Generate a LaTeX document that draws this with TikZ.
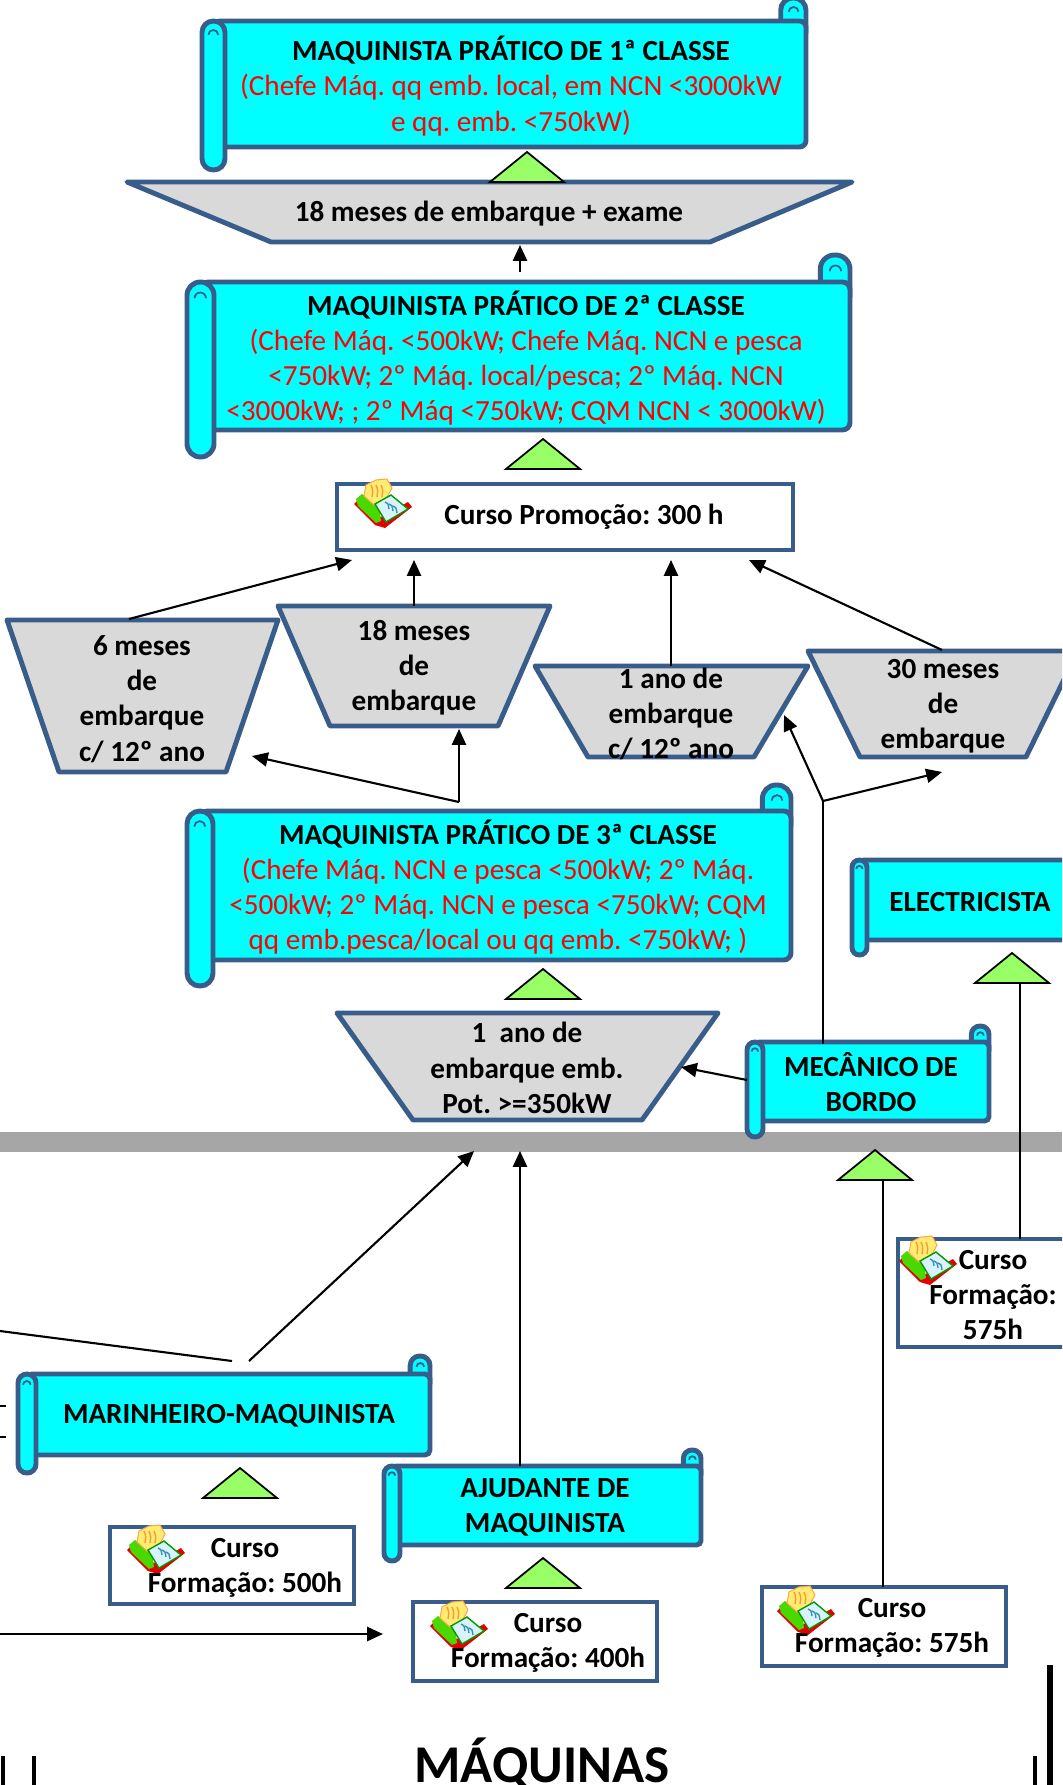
\documentclass[tikz,border=0pt]{standalone}
\usepackage{fontspec}
\setmainfont{Carlito}
\frenchspacing
\usetikzlibrary{arrows.meta}
\definecolor{azul}{RGB}{56,93,138}
\definecolor{ciano}{RGB}{0,255,255}
\definecolor{cinza}{RGB}{217,217,217}
\definecolor{verde}{RGB}{153,255,102}
\definecolor{faixa}{RGB}{166,166,166}
\definecolor{vermelho}{RGB}{255,0,0}

\newcommand{\vm}[1]{{\color{vermelho}\mdseries #1}}
% scroll: left x, top y, right x, bottom y, roll width (px)
\newcommand{\rolo}[5]{%
  \draw[scr, rounded corners=#5*0.15pt] (#3-1.1*#5,#2-#5) rectangle (#3,#2+#5);
  \draw[azul, line width=0.5pt] (#3-0.75*#5,#2-0.4*#5) arc[start angle=180,end angle=0,radius=#5*0.06pt];
  \draw[scr, rounded corners=#5*0.08pt] (#1+0.5*#5,#2) rectangle (#3,#4);
  \draw[scr, rounded corners=#5*0.14pt] (#1,#2) rectangle (#1+#5,#4+#5);
  \draw[azul, line width=0.5pt] (#1+0.28*#5,#2+0.6*#5) arc[start angle=180,end angle=0,radius=#5*0.06pt];
}
% book icon
\newcommand{\livro}[2]{%
  \begin{scope}[shift={(#1,#2)}]
    \fill[red!90!black] (-29,-1) -- (-25,-5) -- (-2,12) -- (25,-3) -- (29,2) -- (2,23) -- (-8,20) -- cycle;
    \fill[green!55!lime!85!black] (-27,-6) -- (-21,-11) -- (-4,1) -- (-2,16) -- (-7,18) -- (-25,1) -- cycle;
    \filldraw[fill=orange!25!yellow!55, draw=orange!70, line width=0.3pt] (-9,0) -- (-19,-9) -- (-17,-20) -- (-7,-25) -- (4,-26) -- (9,-17) -- (2,-4) -- cycle;
    \foreach \k in {0,1,2}
      \draw[orange!80, line width=0.4pt] (-12+5*\k,-20) .. controls (-10+5*\k,-15) .. (-11+5*\k,-8);
    \filldraw[fill=cyan!15, draw=green!60!black, line width=0.4pt] (-8,-1) -- (8,-10) -- (25,4) -- (3,17) -- cycle;
    \foreach \k in {0,1,2}
      \draw[cyan!70!black, line width=0.4pt] (2+4*\k,-3+2*\k) .. controls (5+4*\k,-2+2*\k) .. (6+4*\k,4+2*\k);
  \end{scope}}

\begin{document}
\begin{tikzpicture}
    [x=0.01cm,y=-0.01cm,
     every node/.style={font=\fontsize{8.3}{10}\selectfont\bfseries, align=center, inner sep=0pt},
     scr/.style={fill=ciano, draw=azul, line width=1.4pt},
     trapz/.style={fill=cinza, draw=azul, line width=1.4pt, line join=round},
     curso/.style={fill=white, draw=azul, line width=1.4pt},
     tri/.style={fill=verde, draw=black, line width=0.5pt},
     linha/.style={line width=0.6pt},
     seta/.style={linha, -{Triangle[length=4.5pt,width=4pt]}}]
  \useasboundingbox (0,0) rectangle (1062,1785);
  \clip (0,0) rectangle (1062,1785);

  \fill[faixa] (0,1132) rectangle (1062,1152);

  \rolo{202}{21}{806}{147}{23}
  \rolo{187}{282}{850}{430}{27}
  \rolo{187}{811}{791}{960}{26}
  \rolo{852}{860}{1110}{940}{15}
  \rolo{747}{1042}{989}{1121}{16}
  \rolo{18}{1374}{430}{1455}{18}
  \rolo{384}{1466}{701}{1545}{16}

  \foreach \a/\b/\c/\d/\e/\f in {127/852/182/271/710/242, 7/278/620/59/226/772,
      278/550/606/330/498/726, 535/808/666/588/754/757, 808/1078/651/860/1026/757,
      337/718/1013/413/642/1120}
    \draw[trapz] (\a,\c) -- (\b,\c) -- (\e,\f) -- (\d,\f) -- cycle;

  \foreach \x/\y in {527/182, 543/469, 543/999, 1012/983, 875/1180, 240/1498, 543/1588}
    \draw[tri] (\x-37,\y) -- (\x,\y-30) -- (\x+37,\y) -- cycle;

  \foreach \a/\b/\c/\d in {337/484/793/550, 110/1527/354/1604, 413/1602/657/1681,
      762/1587/1006/1666, 898/1239/1090/1347}
    \draw[curso] (\a,\b) rectangle (\c,\d);

  \foreach \x/\y in {383/505, 156/1551, 459/1627, 806/1612, 928/1262}
    {\livro{\x}{\y}}

  \node (mp1) at (511,86) {MAQUINISTA PRÁTICO DE 1ª CLASSE\\\vm{(Chefe Máq. qq emb. local, em NCN <3000kW}\\\vm{e qq. emb. <750kW)}};
  \node (exame) at (489,214) {18 meses de embarque + exame};
  \node (mp2) at (526,358) {MAQUINISTA PRÁTICO DE 2ª CLASSE\\\vm{(Chefe Máq. <500kW; Chefe Máq. NCN e pesca}\\
    \vm{<750kW; 2º Máq. local/pesca; 2º Máq. NCN}\\\vm{<3000kW; ; 2º Máq <750kW; CQM NCN < 3000kW)}};
  \node (promo) at (584,517) {Curso Promoção: 300 h};
  \node (seis) at (142,699) {6 meses\\de\\embarque\\c/ 12º ano};
  \node (dezoito) at (414,668) {18 meses\\de\\embarque};
  \node (umano) at (671,714) {1 ano de\\embarque\\c/ 12º ano};
  \node (trinta) at (943,706) {30 meses\\de\\embarque};
  \node (mp3) at (498,887) {MAQUINISTA PRÁTICO DE 3ª CLASSE\\\vm{(Chefe Máq. NCN e pesca <500kW; 2º Máq.}\\
    \vm{<500kW; 2º Máq. NCN e pesca <750kW; CQM}\\\vm{qq emb.pesca/local ou qq emb. <750kW; )}};
  \node (elec) at (970,902) {ELECTRICISTA};
  \node (pot) at (527,1068) {1~ ano de\\embarque emb.\\Pot. >=350kW};
  \node (mec) at (871,1082) {MECÂNICO DE\\BORDO};
  \node (c575r) at (993,1295) {Curso\\Formação:\\575h};
  \node (mar) at (229,1416) {MARINHEIRO-MAQUINISTA};
  \node (ajud) at (545,1507) {AJUDANTE DE\\MAQUINISTA};
  \node (c500) at (245,1568) {Curso\\Formação: 500h};
  \node (c400) at (548,1643) {Curso\\Formação: 400h};
  \node (c575) at (892,1628) {Curso\\Formação: 575h};
  \node[font=\fontsize{15.1}{18}\selectfont\bfseries, anchor=base] (maq) at (542,1782) {MÁQUINAS};

  % ends of connectors
  \coordinate (s2top) at (520,272);  \coordinate (exbot) at (520,245);
  \coordinate (seistop) at (129,619); \coordinate (pr1) at (352,560);
  \coordinate (deztop) at (414,606); \coordinate (pr2) at (414,560);
  \coordinate (umtop) at (671,666);  \coordinate (pr3) at (671,560);
  \coordinate (trtop) at (942,650);  \coordinate (pr4) at (749,560);
  \coordinate (s3top) at (459,802);  \coordinate (seisbot) at (252,756);
  \coordinate (dezbot) at (459,729);
  \coordinate (mectop) at (823,1044); \coordinate (mecj) at (823,801);
  \coordinate (umbot) at (784,715);  \coordinate (trbot) at (942,772);
  \coordinate (mecleft) at (747,1080); \coordinate (potright) at (681,1067);
  \coordinate (elecb) at (1020,1239); \coordinate (elect) at (1020,983);
  \coordinate (mecb) at (883,1587);  \coordinate (mect) at (883,1180);
  \coordinate (ajtop) at (520,1466); \coordinate (faixa1) at (520,1151);
  \coordinate (martop) at (249,1361); \coordinate (faixa2) at (474,1151);
  \coordinate (fora1) at (0,1331);   \coordinate (marfim) at (232,1361);
  \coordinate (fora2) at (0,1634);   \coordinate (c400l) at (383,1634);

  \foreach \from/\to in {s2top/exbot, seistop/pr1, deztop/pr2, umtop/pr3, trtop/pr4,
      s3top/seisbot, s3top/dezbot, mecj/umbot, mecj/trbot, mecleft/potright,
      ajtop/faixa1, martop/faixa2, fora2/c400l}
    \draw[seta] (\from) -- (\to);
  \foreach \from/\to in {mectop/mecj, elecb/elect, mecb/mect, fora1/marfim}
    \draw[linha] (\from) -- (\to);

  \draw[linha] (0,1406) -- (6,1406) (0,1437) -- (6,1437);
  \draw[line width=1.4pt] (3,1756) -- (3,1785) (34,1756) -- (34,1785) (1035,1756) -- (1035,1785);
  \draw[line width=1.6pt] (1050,1665) -- (1050,1785);
\end{tikzpicture}
\end{document}
